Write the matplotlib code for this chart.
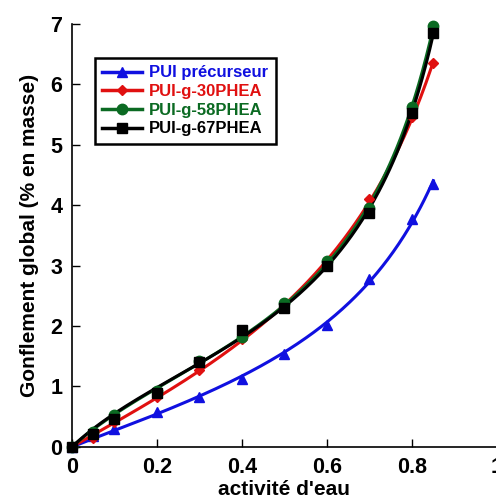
import numpy as np
import matplotlib
matplotlib.use("Agg")
from matplotlib import pyplot as plt

# activite d'eau (water activity) at the measured points
aw = [0.0, 0.05, 0.1, 0.2, 0.3, 0.4, 0.5, 0.6, 0.7, 0.8, 0.85]

# gonflement global (% en masse)
pui_prec = [0.0, 0.18, 0.29, 0.58, 0.83, 1.13, 1.53, 2.02, 2.78, 3.77, 4.36]
pui_30 = [0.0, 0.15, 0.42, 0.83, 1.27, 1.78, 2.30, 3.05, 4.10, 5.46, 6.35]
pui_58 = [0.0, 0.25, 0.52, 0.93, 1.42, 1.82, 2.39, 3.07, 3.95, 5.63, 6.96]
pui_67 = [0.0, 0.21, 0.47, 0.90, 1.41, 1.94, 2.30, 3.00, 3.88, 5.53, 6.85]

labels = ["PUI précurseur", "PUI-g-30PHEA", "PUI-g-58PHEA", "PUI-g-67PHEA"]
colors = ["#1010e0", "#e01010", "#0b6a22", "#000000"]
markers = ["^", "D", "o", "s"]
msizes = [6.5, 5, 7.5, 7.5]

plt.rcParams['font.family'] = ['Liberation Sans', 'DejaVu Sans']
plt.rcParams['font.weight'] = 'bold'

fig = plt.figure(figsize=(4.96, 5.01), dpi=100)
ax = fig.add_axes([0.145, 0.108, 0.857, 0.844])

xs = np.linspace(0.001, 0.85, 200)
handles = []
for y, lab, c, m, ms in zip([pui_prec, pui_30, pui_58, pui_67], labels, colors, markers, msizes):
    # GAB fit, linearised form aw/m = a*aw^2 + b*aw + c, weighted so the
    # residuals count in m units
    x = np.array(aw[1:])
    yy = np.array(y[1:])
    coef = np.polyfit(x, x / yy, 2, w=yy**2 / x)
    fit = xs / np.polyval(coef, xs)
    ax.plot(np.r_[0, xs], np.r_[0, fit], color=c, lw=2.2, zorder=2)
    ax.plot(aw, y, linestyle='none', marker=m, color=c, ms=ms, zorder=3, clip_on=False)
    h, = ax.plot([], [], color=c, lw=2.5, marker=m, ms=ms)
    handles.append(h)

ax.set_xlim(0, 1)
ax.set_ylim(0, 7)
ax.set_xticks([0, 0.2, 0.4, 0.6, 0.8, 1])
ax.set_xticklabels(["0", "0.2", "0.4", "0.6", "0.8", "1"])
ax.set_yticks(range(8))
ax.tick_params(direction='in', length=6, width=1, labelsize=15.5, pad=7)
for lbl in ax.get_xticklabels() + ax.get_yticklabels():
    lbl.set_fontweight('bold')
ax.spines['top'].set_visible(False)
ax.spines['right'].set_visible(False)
ax.spines['left'].set_linewidth(1.2)
ax.spines['bottom'].set_linewidth(1.2)

ax.set_xlabel("activité d'eau", fontsize=15, fontweight='bold', labelpad=2)
ax.set_ylabel("Gonflement global (% en masse)", fontsize=15, fontweight='bold', labelpad=8)

leg = ax.legend(handles, labels, loc='upper left', bbox_to_anchor=(0.054, 0.92),
                borderaxespad=0, fancybox=False, edgecolor='black', framealpha=1,
                prop={'weight': 'bold', 'size': 12}, handlelength=2.4,
                handletextpad=0.4, labelspacing=0.22, borderpad=0.45)
leg.get_frame().set_linewidth(1.8)
for t, c in zip(leg.get_texts(), colors):
    t.set_color(c)

fig.savefig("out.png", dpi=100)
